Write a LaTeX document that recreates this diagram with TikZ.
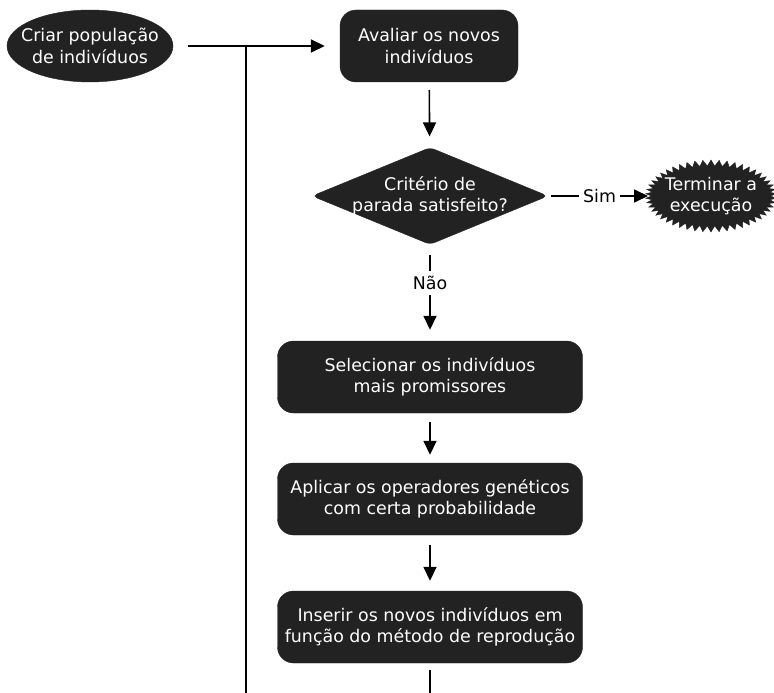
\documentclass[tikz,border=0pt]{standalone}
\usepackage{fontspec}
\setmainfont{DejaVu Sans}
\usetikzlibrary{shapes.geometric, shapes.symbols, arrows.meta, positioning}
\definecolor{boxfill}{HTML}{222222}

\begin{document}
\begin{tikzpicture}[x=1pt, y=-1pt,
    every node/.style={font=\fontsize{17.4}{21.5}\selectfont},
    darkbox/.style={draw=boxfill, fill=boxfill, text=white, rectangle, rounded corners=16pt, align=center, minimum height=72pt, inner sep=0pt},
    startnode/.style={draw=boxfill, fill=boxfill, text=white, ellipse, align=center, minimum width=166pt, minimum height=72pt, inner xsep=-12pt, inner ysep=0pt},
    decision/.style={draw=boxfill, fill=boxfill, text=white, diamond, aspect=2.43, rounded corners=5pt, align=center, minimum width=236pt, minimum height=97pt, inner xsep=-20pt, inner ysep=-4pt},
    endnode/.style={draw=boxfill, fill=boxfill, text=white, starburst, starburst points=50, starburst point height=6pt, random starburst=0, align=center, minimum width=118pt, minimum height=72pt, inner xsep=-4pt, inner ysep=0pt},
    flow/.style={line width=1.6pt, -{Triangle[length=14pt, width=13pt]}},
    plain/.style={line width=1.6pt}
]
    \useasboundingbox (0,0) rectangle (774,693);

    % Nodes
    \node (create) [startnode] at (90, 46) {Criar população\\de indivíduos};
    \node (evaluate) [darkbox, minimum width=178pt] at (429, 46) {Avaliar os novos\\indivíduos};
    \node (criterion) [decision] at (430, 196) {Critério de\\parada satisfeito?};
    \node (finish) [endnode] at (711, 196) {Terminar a\\execução};
    \node (select) [darkbox, minimum width=305pt] at (430, 377) {Selecionar os indivíduos\\mais promissores};
    \node (apply) [darkbox, minimum width=305pt] at (430, 499) {Aplicar os operadores genéticos\\com certa probabilidade};
    \node (insert) [darkbox, minimum width=305pt] at (430, 627) {Inserir os novos indivíduos em\\função do método de reprodução};

    % Loop ends (cut at the border)
    \coordinate (loopjoin) at (246, 46);
    \coordinate (loopleft) at (246, 693);
    \coordinate (loopright) at (430, 693);

    % Connections
    \draw [flow, shorten <=15pt, shorten >=15pt] (create) -- (evaluate);
    \draw [plain] (loopleft) -- (loopjoin);
    \draw [flow, shorten <=8pt, shorten >=11pt] (evaluate) -- (criterion);
    \draw [flow, shorten <=3pt, shorten >=3pt] (criterion) -- node[fill=white, inner xsep=4pt, inner ysep=2pt] {Sim} (finish);
    \draw [flow, shorten <=10pt, shorten >=11pt] (criterion) -- node[pos=0.4, fill=white, inner xsep=2pt, inner ysep=5pt] {Não} (select);
    \draw [flow, shorten <=9pt, shorten >=8pt] (select) -- (apply);
    \draw [flow, shorten <=10pt, shorten >=10pt] (apply) -- (insert);
    \draw [plain, shorten <=7pt] (insert) -- (loopright);

\end{tikzpicture}
\end{document}
